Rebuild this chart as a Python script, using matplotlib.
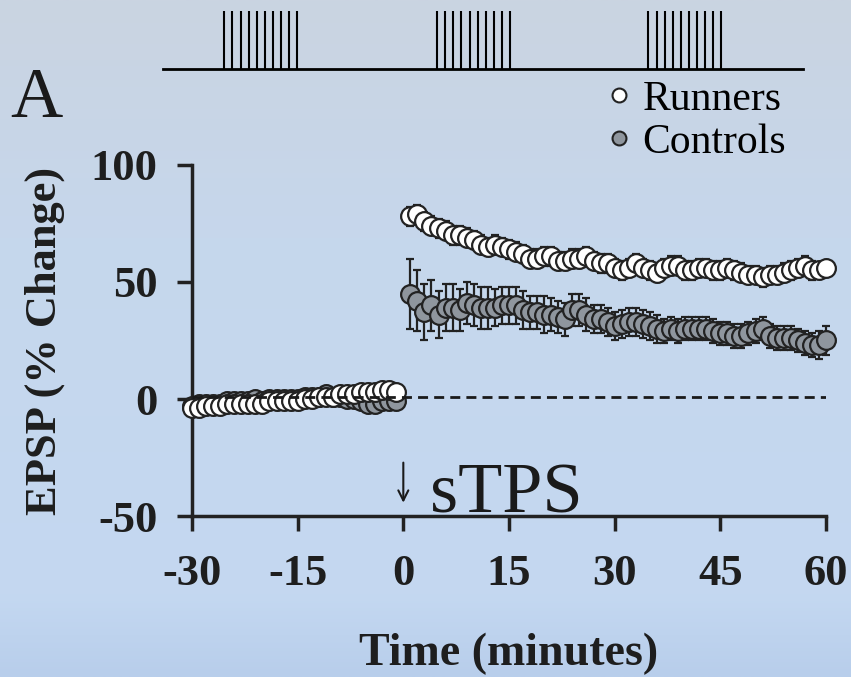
import numpy as np
import matplotlib
matplotlib.use("Agg")
import matplotlib.pyplot as plt
from matplotlib.colors import LinearSegmentedColormap
from matplotlib.lines import Line2D

plt.rcParams["font.family"] = ["Liberation Serif", "DejaVu Serif"]
plt.rcParams["font.weight"] = "bold"
plt.rcParams["axes.unicode_minus"] = False

# ------------------------------
# data
# ------------------------------
time_pre = list(range(-30, 0))
time_post = list(range(1, 61))

runners_pre = [-4, -4, -3, -3, -3, -2, -2, -2, -2, -2, -2, -1, -1, -1, -1,
               -1, 0, 0, 1, 1, 1, 2, 2, 2, 3, 3, 3, 4, 4, 3]
runners_pre_err = [1.5] * 30
controls_pre = [-3, -2, -2, -2, -2, -1, -1, -1, -1, 0, -1, 0, 0, 0, 0,
                0, 1, 1, 1, 2, 1, 1, 0, 0, -1, -2, -2, -1, -1, -1]
controls_pre_err = [2] * 30

runners_post = [78, 79, 76, 74, 73, 72, 70, 70, 69, 68, 66, 65, 66, 65, 64,
                63, 62, 60, 60, 61, 61, 59, 59, 60, 60, 61, 59, 58, 58, 56,
                55, 56, 58, 56, 55, 54, 56, 57, 57, 55, 55, 56, 56, 55, 55,
                56, 55, 54, 53, 53, 52, 53, 53, 54, 55, 56, 57, 55, 55, 56]
runners_post_err = [4, 4, 4, 4, 4, 4, 4, 4, 4, 4, 4, 4, 4, 4, 4,
                    4, 4, 4, 4, 4, 4, 4, 4, 4, 4, 4, 4, 4, 4, 4,
                    4, 4, 4, 4, 4, 4, 4, 4, 4, 4, 4, 4, 4, 4, 4,
                    4, 4, 4, 4, 4, 4, 4, 4, 4, 4, 4, 4, 4, 3, 3]
controls_post = [45, 42, 37, 40, 36, 39, 39, 38, 41, 40, 39, 39, 39, 40, 40,
                 40, 38, 37, 37, 36, 36, 35, 34, 38, 38, 36, 34, 34, 33, 31,
                 32, 33, 33, 32, 31, 30, 29, 30, 29, 30, 30, 30, 30, 29, 28,
                 28, 27, 27, 28, 29, 30, 27, 26, 26, 26, 25, 24, 23, 23, 25]
controls_post_err = [15, 13, 12, 11, 10, 10, 10, 9, 9, 9, 9, 9, 8, 8, 8,
                     8, 8, 7, 7, 8, 7, 7, 7, 7, 7, 7, 6, 6, 6, 6,
                     6, 6, 6, 6, 6, 6, 5, 5, 5, 5, 5, 5, 5, 5, 5,
                     5, 5, 5, 5, 5, 5, 5, 5, 5, 5, 5, 5, 5, 6, 6]

# stimulus schematic (minutes on the same time axis)
burst_onsets = [-25.4, 4.8, 34.8]
pulses_per_burst = 10
pulse_gap = 1.15

time_all = time_pre + time_post
runners = runners_pre + runners_post
runners_err = runners_pre_err + runners_post_err
controls = controls_pre + controls_post
controls_err = controls_pre_err + controls_post_err

# ------------------------------
# figure + gradient background
# ------------------------------
fig = plt.figure(figsize=(8.51, 6.77), dpi=100)
bg = fig.add_axes([0, 0, 1, 1], zorder=-10)
grad = np.linspace(0, 1, 256).reshape(-1, 1)
bg_cmap = LinearSegmentedColormap.from_list(
    "bg", [(0, "#cad4e1"), (0.35, "#c6d7ec"), (0.88, "#c4d8f1"), (1, "#b8ceeb")])
bg.imshow(grad, aspect="auto", cmap=bg_cmap, extent=[0, 1, 0, 1], origin="upper")
bg.axis("off")

ax = fig.add_axes([0.2256, 0.2378, 0.745, 0.5185])
ax.patch.set_alpha(0)

edge = "#222222"
ax.errorbar(time_all, controls, yerr=controls_err, fmt="none", ecolor=edge,
            elinewidth=1.6, capsize=3.2, capthick=1.6, zorder=2, clip_on=False)
ax.plot(time_all, controls, "o", ms=13.5, mfc="#8f969e", mec=edge, mew=1.6,
        zorder=3, clip_on=False)
ax.errorbar(time_all, runners, yerr=runners_err, fmt="none", ecolor=edge,
            elinewidth=1.6, capsize=3.2, capthick=1.6, zorder=4, clip_on=False)
ax.plot(time_all, runners, "o", ms=13.5, mfc="white", mec=edge, mew=1.6,
        zorder=5, clip_on=False)

ax.axhline(1, color="#1a1a1a", lw=2, ls=(0, (3.6, 2.2)), zorder=6)

ax.set_xlim(-30, 60)
ax.set_ylim(-50, 100)
ax.set_xticks([-30, -15, 0, 15, 30, 45, 60])
ax.set_yticks([-50, 0, 50, 100])
for s in ["top", "right"]:
    ax.spines[s].set_visible(False)
for s in ["left", "bottom"]:
    ax.spines[s].set_linewidth(2.5)
    ax.spines[s].set_color(edge)
ax.tick_params(direction="out", length=11, width=2.5, color=edge,
               labelsize=32, labelcolor="#1e1e1e")
ax.tick_params(axis="x", pad=16)
ax.tick_params(axis="y", pad=14)

ax.set_ylabel("EPSP (% Change)", fontsize=32, fontweight="bold", color="#1e1e1e")
ax.yaxis.set_label_coords(-0.2, 0.5)
ax.set_xlabel("Time (minutes)", fontsize=33, fontweight="bold", color="#1e1e1e")
ax.xaxis.set_label_coords(0.5, -0.333)

# stimulus marker
ax.annotate("", xy=(0, -45.5), xytext=(0, -26),
            arrowprops=dict(arrowstyle="->", lw=1.5, color="#1a1a1a",
                            mutation_scale=18))
ax.text(3.8, -48.7, "sTPS", fontsize=52, fontweight="normal", color="#1a1a1a",
        va="baseline", ha="left")

fig.text(10 / 851, 1 - 117 / 677, "A", fontsize=52, fontweight="normal",
         color="#1a1a1a", va="baseline", ha="left")

# legend
handles = [
    Line2D([], [], ls="none", marker="o", ms=10, mfc="white", mec=edge, mew=1.5),
    Line2D([], [], ls="none", marker="o", ms=10, mfc="#8f969e", mec=edge, mew=1.5),
]
ax.legend(handles, ["Runners", "Controls"], loc="upper left",
          bbox_to_anchor=(603 / 851, 1 - 80 / 677), bbox_transform=fig.transFigure,
          frameon=False, borderpad=0, borderaxespad=0, handlelength=0.75,
          handletextpad=0.2, labelspacing=0.12,
          prop={"family": "Liberation Serif", "weight": "normal", "size": 30})

# stimulation schematic above the plot
ax_top = fig.add_axes([0.2256, 1 - 69 / 677, 0.745, 58 / 677])
ax_top.set_xlim(-30, 60)
ax_top.set_ylim(0, 1)
ax_top.axis("off")
ax_top.axhline(0, xmin=(-34.1 + 30) / 90, xmax=(56.8 + 30) / 90,
               color="black", lw=2, clip_on=False)
for onset in burst_onsets:
    pulses = [onset + k * pulse_gap for k in range(pulses_per_burst)]
    ax_top.vlines(pulses, 0, 1, color="black", lw=1.5)

fig.savefig("out.png", dpi=100)
